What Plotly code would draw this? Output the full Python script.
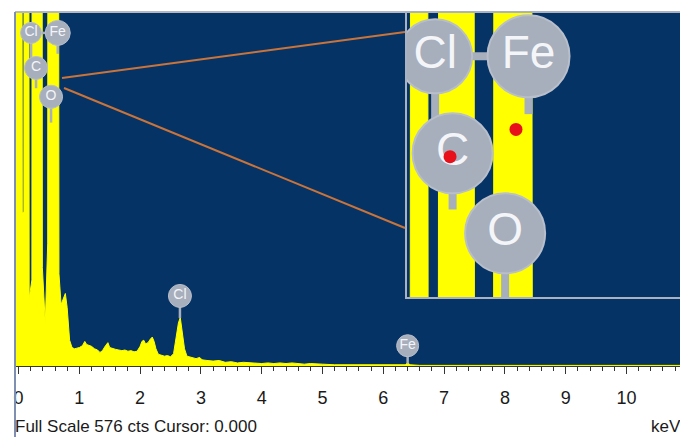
import plotly.graph_objects as go

# ---------------- data ----------------
energy_kev = [-0.058, -0.01, 0.045, 0.062, 0.088, 0.10, 0.16, 0.175, 0.22, 0.232,
              0.378, 0.392, 0.44, 0.48, 0.492, 0.64, 0.665, 0.70, 0.74, 0.77,
              0.80, 0.84, 0.88, 0.92, 0.96, 1.00, 1.05, 1.09, 1.12, 1.16,
              1.20, 1.25, 1.30, 1.34, 1.38, 1.43, 1.47, 1.50, 1.55, 1.60,
              1.65, 1.70, 1.75, 1.80, 1.85, 1.90, 1.95, 2.00, 2.03, 2.06,
              2.09, 2.13, 2.17, 2.20, 2.23, 2.26, 2.30, 2.35, 2.40, 2.45,
              2.50, 2.55, 2.59, 2.63, 2.66, 2.69, 2.73, 2.77, 2.82, 2.87,
              2.92, 2.98, 3.02, 3.10, 3.20, 3.30, 3.40, 3.50, 3.60, 3.70,
              3.80, 3.90, 4.00, 4.10, 4.20, 4.30, 4.40, 4.50, 4.60, 4.70,
              4.80, 4.90, 5.00, 5.20, 5.40, 5.60, 5.80, 6.00, 6.20, 6.36,
              6.40, 6.44, 6.60, 7.00, 8.00, 9.00, 10.00, 10.88]
counts = [1800, 1800, 1800, 250, 250, 2200, 2200, 110, 140, 2500,
          2500, 160, 70, 200, 2700, 2700, 150, 100, 112, 118,
          95, 42, 30, 28, 29, 30, 33, 40, 35, 34,
          32, 28, 26, 22, 25, 33, 38, 30, 28, 27,
          26, 25, 26, 24, 25, 23, 24, 32, 40, 42,
          36, 38, 44, 47, 40, 28, 19, 17, 16, 17,
          15, 20, 45, 70, 79, 60, 28, 16, 15, 14,
          12, 14, 10, 9, 8, 9, 6, 7, 5, 6,
          5, 5, 4, 5, 4, 5, 4, 5, 4, 3,
          4, 3, 3, 2, 2, 2, 2, 1, 2, 2,
          5, 2, 1, 1, 1, 1, 1, 1]

full_scale_cts = 576
x_tick_vals = list(range(0, 11))
x_tick_text = [str(v) for v in x_tick_vals]

label_elements = ["Cl", "Fe", "C", "O", "Cl", "Fe"]
label_energy = [0.206, 0.645, 0.288, 0.535, 2.655, 6.40]
label_height = [542, 542, 485, 438, 114, 33]
stem_bottom = [490, 508, 452, 396, 78, 4]

inset_marker_energy = [0.276, 0.586]
inset_marker_height = [483, 499]

# ---------------- styles ----------------
BG = "#053366"
YEL = "#FFFF00"
GEAR = "#A7AEBC"
TXT = "#F4F5F8"
FONT = "Liberation Sans Narrow, Arial Narrow, Liberation Sans, Arial"

fig = go.Figure()

# main spectrum
fig.add_trace(go.Scatter(x=energy_kev, y=counts, mode="lines", fill="tozeroy",
                         line=dict(color=YEL, width=1), fillcolor=YEL,
                         hoverinfo="skip", xaxis="x", yaxis="y"))
# inset spectrum (magnified view of the low-energy region)
fig.add_trace(go.Scatter(x=energy_kev, y=counts, mode="lines", fill="tozeroy",
                         line=dict(color=YEL, width=1), fillcolor=YEL,
                         hoverinfo="skip", xaxis="x2", yaxis="y2"))


def stems(ax, ay, width, n=None):
    xs, ys = [], []
    idx = range(len(label_energy)) if n is None else range(n)
    for i in idx:
        xs += [label_energy[i], label_energy[i], None]
        ys += [label_height[i], stem_bottom[i], None]
    # Cl - Fe connector
    xs += [label_energy[0], label_energy[1], None]
    ys += [label_height[0], label_height[1], None]
    fig.add_trace(go.Scatter(x=xs, y=ys, mode="lines",
                             line=dict(color=GEAR, width=width),
                             hoverinfo="skip", xaxis=ax, yaxis=ay))


stems("x", "y", 2.5)
stems("x2", "y2", 8, n=4)

main_sizes = [21, 25, 23, 23, 23, 22]
fig.add_trace(go.Scatter(x=label_energy, y=label_height, mode="markers+text",
                         text=label_elements, textposition="middle center",
                         textfont=dict(color=TXT, size=14, family=FONT),
                         marker=dict(size=main_sizes, color=GEAR, opacity=1,
                                     line=dict(color="#B8BECA", width=1)),
                         opacity=1, hoverinfo="skip", xaxis="x", yaxis="y"))

inset_sizes = [74, 82, 80, 80]
fig.add_trace(go.Scatter(x=label_energy[:4], y=label_height[:4], mode="markers+text",
                         text=label_elements[:4], textposition="middle center",
                         textfont=dict(color=TXT, size=46, family=FONT),
                         marker=dict(size=inset_sizes, color=GEAR, opacity=1,
                                     line=dict(color="#B8BECA", width=2)),
                         opacity=1, hoverinfo="skip", xaxis="x2", yaxis="y2"))

fig.add_trace(go.Scatter(x=inset_marker_energy, y=inset_marker_height, mode="markers",
                         marker=dict(size=13, color="#E8101A", opacity=1),
                         hoverinfo="skip", xaxis="x2", yaxis="y2"))

W, H = 680, 437
L, R, T, B = 15, 0, 12, 71
pw, ph = W - L - R, H - T - B


def px(x):
    return (x - L) / pw


def py(y):
    return (H - B - y) / ph


shapes = [
    # plot frame (top / left)
    dict(type="line", xref="paper", yref="paper", x0=0, x1=1, y0=1, y1=1,
         line=dict(color="#B4B8C2", width=2)),
    dict(type="line", xref="paper", yref="paper", x0=0, x1=0, y0=py(437), y1=1,
         line=dict(color="#7F8FB2", width=2)),
    # inset frame
    dict(type="rect", xref="paper", yref="paper", x0=px(406), x1=1.01,
         y0=py(298), y1=1, line=dict(color="#AAB2C2", width=2)),
    # orange pointers
    dict(type="line", xref="paper", yref="paper", x0=px(62), y0=py(78),
         x1=px(405), y1=py(32), line=dict(color="#C9743A", width=2)),
    dict(type="line", xref="paper", yref="paper", x0=px(64), y0=py(88),
         x1=px(405), y1=py(228), line=dict(color="#C9743A", width=2)),
]

annotations = [
    dict(text="Full Scale %d cts Cursor: 0.000" % full_scale_cts, xref="paper",
         yref="paper", x=px(13), y=py(426), xanchor="left", yanchor="middle",
         showarrow=False, font=dict(size=17, color="#1a1a1a", family=FONT)),
    dict(text="keV", xref="paper", yref="paper", x=px(649), y=py(426),
         xanchor="left", yanchor="middle", showarrow=False,
         font=dict(size=17, color="#1a1a1a", family=FONT)),
]

fig.update_layout(
    width=W, height=H,
    margin=dict(l=L, r=R, t=T, b=B, pad=0),
    paper_bgcolor="white", plot_bgcolor=BG,
    showlegend=False,
    xaxis=dict(domain=[0, 1], range=[-0.058, 10.88], tickvals=x_tick_vals,
               ticktext=x_tick_text, ticks="outside", ticklen=7, tickwidth=1,
               tickcolor="#333333", showgrid=False, zeroline=False,
               showline=True, linecolor="#3a3a20", linewidth=1,
               ticklabelstandoff=8,
               tickfont=dict(size=18, color="#1a1a1a", family=FONT),
               minor=dict(dtick=0.2, tick0=0, ticks="outside", ticklen=4,
                          tickcolor="#333333", showgrid=False),
               fixedrange=True),
    yaxis=dict(domain=[0, 1], range=[0, full_scale_cts], visible=False,
               showgrid=False, zeroline=False, fixedrange=True),
    xaxis2=dict(domain=[px(406), 1], anchor="y2", range=[0.069, 1.357],
                visible=False, showgrid=False, zeroline=False),
    yaxis2=dict(domain=[py(298), 1], anchor="x2", range=[400, 568],
                visible=False, showgrid=False, zeroline=False),
    shapes=shapes,
    annotations=annotations,
)

fig.write_html("out.html")
